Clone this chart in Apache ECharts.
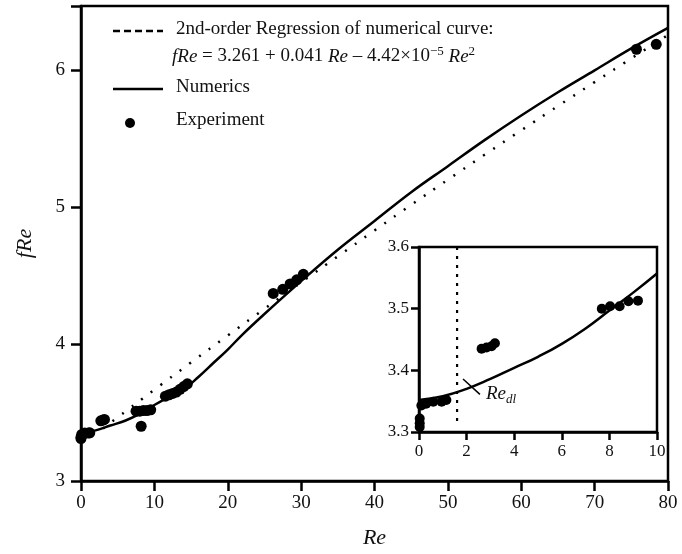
<!DOCTYPE html>
<html>
<head>
<meta charset="utf-8">
<script src="https://cdn.jsdelivr.net/npm/echarts@6/dist/echarts.min.js"></script>
<style>
html,body{margin:0;padding:0;background:#fff;}
#c{width:682px;height:554px;}
</style>
</head>
<body>
<div id="c"></div>
<script>
// ---- data ----
// Numerical curve, main plot
const reNum  = [0, 2, 4, 6, 8, 10, 12, 14, 16, 18, 20, 22, 25, 30, 35, 40, 45, 50, 55, 60, 65, 70, 75, 80];
const fReNum = [3.35, 3.37, 3.405, 3.44, 3.49, 3.555, 3.615, 3.67, 3.76, 3.86, 3.96, 4.07, 4.22, 4.46, 4.69, 4.90, 5.11, 5.30, 5.49, 5.67, 5.84, 6.00, 6.16, 6.31];
// 2nd-order regression curve (dotted)
const reReg  = [3, 5, 10, 15, 20, 25, 30, 35, 40, 45, 50, 55, 60, 65, 70, 75, 80];
const fReReg = [3.383, 3.465, 3.667, 3.866, 4.063, 4.258, 4.451, 4.641, 4.830, 5.017, 5.201, 5.383, 5.562, 5.739, 5.914, 6.087, 6.258];
// Experiment, main plot
const reExp  = [0, 0, 0.1, 0.5, 1.0, 1.2, 2.7, 3.0, 3.2, 7.5, 8.0, 8.5, 9.0, 9.5, 8.2, 11.5, 12.0, 12.5, 13.0, 13.5, 14.0, 14.5, 26.2, 27.5, 28.5, 29.4, 30.3, 75.7, 78.4];
const fReExp = [3.31, 3.32, 3.34, 3.35, 3.35, 3.352, 3.44, 3.445, 3.45, 3.51, 3.51, 3.515, 3.515, 3.52, 3.40, 3.62, 3.63, 3.64, 3.65, 3.67, 3.69, 3.71, 4.37, 4.40, 4.44, 4.47, 4.51, 6.154, 6.19];
// Inset: numerical curve
const reIn   = [0, 1, 2, 3, 4, 5, 6, 7, 8, 9, 10];
const fReIn  = [3.352, 3.358, 3.370, 3.386, 3.404, 3.422, 3.443, 3.468, 3.497, 3.526, 3.557];
// Inset: experiment
const reInExp  = [0.03, 0.03, 0.03, 0.1, 0.3, 0.6, 0.95, 1.15, 2.63, 2.84, 3.05, 3.19, 7.68, 8.03, 8.43, 8.8, 9.2];
const fReInExp = [3.322, 3.314, 3.308, 3.343, 3.346, 3.349, 3.349, 3.352, 3.435, 3.437, 3.439, 3.444, 3.500, 3.504, 3.504, 3.512, 3.513];
// Inset: Re_dl vertical marker and pointer
const reDl = [1.6, 1.6];
const fReDl = [3.6, 3.31];
const rePtr = [1.85, 2.56];
const fRePtr = [3.386, 3.361];
// ticks
const mainXTicks = [0, 10, 20, 30, 40, 50, 60, 70, 80];
const mainYTicks = [3, 4, 5, 6];
const inXTicks = [0, 2, 4, 6, 8, 10];
const inYTicks = [3.3, 3.4, 3.5, 3.6];

const zip = (a, b) => a.map((v, i) => [v, b[i]]);
const SERIF = "'Liberation Serif','Times New Roman',serif";
const TXT = '#111';

const chart = echarts.init(document.getElementById('c'));

const axisCommon = {
  axisLine: {show: true, onZero: false, lineStyle: {color: '#000', width: 2.5}},
  axisTick: {show: true, inside: false, length: 10, lineStyle: {color: '#000', width: 2.5}},
  splitLine: {show: false},
};

chart.setOption({
  animation: false,
  backgroundColor: '#fff',
  grid: [
    {left: 81, right: 14, top: 6, bottom: 70, show: true, borderColor: '#000', borderWidth: 2.5, backgroundColor: 'transparent'},
    {left: 419, top: 247, width: 238, height: 185, show: true, borderColor: '#000', borderWidth: 2.5, backgroundColor: '#fff', z: 5}
  ],
  xAxis: [
    Object.assign({}, axisCommon, {
      gridIndex: 0, type: 'value', min: mainXTicks[0], max: mainXTicks[mainXTicks.length - 1], interval: 10,
      axisLabel: {fontFamily: SERIF, fontSize: 19, color: TXT, margin: 13},
      name: 'Re', nameLocation: 'middle', nameGap: 46,
      nameTextStyle: {fontFamily: SERIF, fontStyle: 'italic', fontSize: 22, color: TXT}
    }),
    Object.assign({}, axisCommon, {
      gridIndex: 1, type: 'value', min: inXTicks[0], max: inXTicks[inXTicks.length - 1], interval: 2, z: 6,
      axisTick: {show: true, inside: false, length: 8, lineStyle: {color: '#000', width: 2.5}},
      axisLabel: {fontFamily: SERIF, fontSize: 17, color: TXT, margin: 11}
    })
  ],
  yAxis: [
    Object.assign({}, axisCommon, {
      gridIndex: 0, type: 'value', min: mainYTicks[0], max: 6.47, interval: 1,
      axisLabel: {fontFamily: SERIF, fontSize: 19, color: TXT, margin: 16,
        formatter: v => mainYTicks.includes(v) ? String(v) : ''},
      name: 'fRe', nameLocation: 'middle', nameGap: 45, nameRotate: 90,
      nameTextStyle: {fontFamily: SERIF, fontStyle: 'italic', fontSize: 22, color: TXT}
    }),
    Object.assign({}, axisCommon, {
      gridIndex: 1, type: 'value', min: inYTicks[0], max: inYTicks[inYTicks.length - 1], interval: 0.1, z: 6,
      axisTick: {show: true, inside: false, length: 8, lineStyle: {color: '#000', width: 2.5}},
      axisLabel: {fontFamily: SERIF, fontSize: 17, color: TXT, margin: 10, formatter: v => v.toFixed(1)}
    })
  ],
  series: [
    {type: 'line', xAxisIndex: 0, yAxisIndex: 0, data: zip(reReg, fReReg), smooth: true, showSymbol: false,
     lineStyle: {color: '#000', width: 2.5, type: [2, 10]}},
    {type: 'line', xAxisIndex: 0, yAxisIndex: 0, data: zip(reNum, fReNum), smooth: 0.4, showSymbol: false,
     lineStyle: {color: '#000', width: 2.5}},
    {type: 'scatter', xAxisIndex: 0, yAxisIndex: 0, data: zip(reExp, fReExp), symbolSize: 11,
     itemStyle: {color: '#000', opacity: 1}},
    {type: 'line', xAxisIndex: 1, yAxisIndex: 1, data: zip(reIn, fReIn), smooth: true, showSymbol: false, z: 7,
     lineStyle: {color: '#000', width: 2.5}},
    {type: 'line', xAxisIndex: 1, yAxisIndex: 1, data: zip(reDl, fReDl), showSymbol: false, z: 7,
     lineStyle: {color: '#000', width: 2.2, type: [3, 6]}},
    {type: 'line', xAxisIndex: 1, yAxisIndex: 1, data: zip(rePtr, fRePtr), showSymbol: false, z: 7,
     lineStyle: {color: '#000', width: 1.5},
     endLabel: {
       show: true, distance: 6,
       formatter: '{a|Re}{b|dl}',
       rich: {
         a: {fontFamily: SERIF, fontStyle: 'italic', fontSize: 19, color: TXT},
         b: {fontFamily: SERIF, fontStyle: 'italic', fontSize: 13, color: TXT, padding: [10, 0, 0, 0]}
       }
     }},
    {type: 'scatter', xAxisIndex: 1, yAxisIndex: 1, data: zip(reInExp, fReInExp), symbolSize: 10, z: 8,
     itemStyle: {color: '#000', opacity: 1}}
  ],
  graphic: [
    {type: 'line', shape: {x1: 113, y1: 31, x2: 163, y2: 31}, style: {stroke: '#000', lineWidth: 2.5, lineDash: [7, 4]}},
    {type: 'text', left: 176, top: 20, style: {text: '2nd-order Regression of numerical curve:', font: '19px ' + SERIF, fill: TXT}},
    {type: 'text', left: 172, top: 45, style: {
      text: '{i|fRe} = 3.261 + 0.041 {i|Re} \u2013 4.42\u00d710{s|\u22125} {i|Re}{s|2}',
      font: '19px ' + SERIF, fill: TXT,
      rich: {
        i: {fontFamily: SERIF, fontStyle: 'italic', fontSize: 19, fill: TXT},
        s: {fontFamily: SERIF, fontSize: 13, fill: TXT, padding: [0, 0, 10, 0]}
      }}},
    {type: 'line', shape: {x1: 113, y1: 89, x2: 163, y2: 89}, style: {stroke: '#000', lineWidth: 2.5}},
    {type: 'text', left: 176, top: 78, style: {text: 'Numerics', font: '19px ' + SERIF, fill: TXT}},
    {type: 'circle', shape: {cx: 130, cy: 123, r: 5}, style: {fill: '#000'}},
    {type: 'text', left: 176, top: 111, style: {text: 'Experiment', font: '19px ' + SERIF, fill: TXT}}
  ]
});
</script>
</body>
</html>
